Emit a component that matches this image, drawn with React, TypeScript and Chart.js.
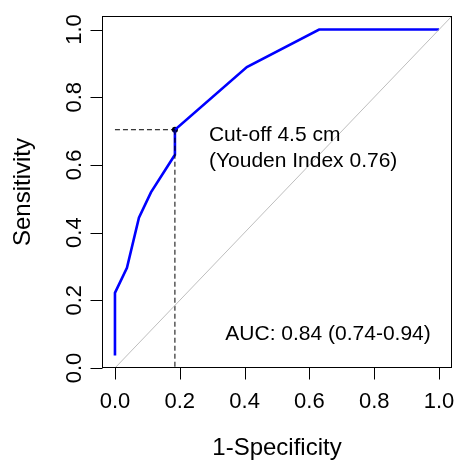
import React, { useEffect, useRef } from "react";
import { Chart, registerables } from "chart.js";

Chart.register(...registerables);

// ROC curve values
const fpr = [0, 0, 0.037, 0.074, 0.111, 0.185, 0.185, 0.407, 0.63, 1.0];
const tpr = [0.037, 0.222, 0.296, 0.444, 0.519, 0.63, 0.704, 0.889, 1.0, 1.0];

// optimal cut-off point
const cutoffX = [0.185];
const cutoffY = [0.704];

// reference diagonal
const diagX = [0, 1.04];
const diagY = [0, 1.04];

// ticks
const xTicks = [0, 0.2, 0.4, 0.6, 0.8, 1.0];
const xTickLabels = ["0.0", "0.2", "0.4", "0.6", "0.8", "1.0"];
const yTicks = [0, 0.2, 0.4, 0.6, 0.8, 1.0];
const yTickLabels = ["0.0", "0.2", "0.4", "0.6", "0.8", "1.0"];

const xTitle = "1-Specificity";
const yTitle = "Sensitivity";
const cutoffLines = ["Cut-off 4.5 cm", "(Youden Index 0.76)"];
const aucText = "AUC: 0.84 (0.74-0.94)";

const FONT = '"Liberation Sans", Arial, Helvetica, sans-serif';

const axesPlugin = {
  id: "rAxes",
  afterDraw(chart: any) {
    const { ctx, chartArea } = chart;
    const xs = chart.scales.x;
    const ys = chart.scales.y;
    const { left, right, top, bottom } = chartArea;
    ctx.save();
    ctx.strokeStyle = "#000";
    ctx.fillStyle = "#000";
    ctx.lineWidth = 1;
    ctx.setLineDash([]);
    // box
    ctx.strokeRect(Math.round(left) + 0.5, Math.round(top) + 0.5, Math.round(right - left) - 1, Math.round(bottom - top) - 1);
    const by = Math.round(bottom) - 0.5;
    const lx = Math.round(left) + 0.5;
    // x ticks
    ctx.font = `22px ${FONT}`;
    ctx.textAlign = "center";
    ctx.textBaseline = "alphabetic";
    xTicks.forEach((v, i) => {
      const px = Math.round(xs.getPixelForValue(v)) + 0.5;
      ctx.beginPath();
      ctx.moveTo(px, by);
      ctx.lineTo(px, by + 12);
      ctx.stroke();
      ctx.fillText(xTickLabels[i], xs.getPixelForValue(v), bottom + 39.5);
    });
    // y ticks
    yTicks.forEach((v, i) => {
      const py = Math.round(ys.getPixelForValue(v)) + 0.5;
      ctx.beginPath();
      ctx.moveTo(lx - 12, py);
      ctx.lineTo(lx, py);
      ctx.stroke();
      ctx.save();
      ctx.translate(left - 21, ys.getPixelForValue(v));
      ctx.rotate(-Math.PI / 2);
      ctx.fillText(yTickLabels[i], 0, 0);
      ctx.restore();
    });
    // titles
    ctx.font = `24px ${FONT}`;
    ctx.fillText(xTitle, (left + right) / 2, bottom + 87);
    ctx.save();
    ctx.translate(left - 72.5, (top + bottom) / 2);
    ctx.rotate(-Math.PI / 2);
    ctx.fillText(yTitle, 0, 0);
    ctx.restore();
    // annotations
    ctx.font = `21px ${FONT}`;
    ctx.textAlign = "left";
    ctx.fillText(cutoffLines[0], xs.getPixelForValue(0.29), ys.getPixelForValue(0.6707));
    ctx.fillText(cutoffLines[1], xs.getPixelForValue(0.29), ys.getPixelForValue(0.5939));
    ctx.textAlign = "center";
    ctx.fillText(aucText, xs.getPixelForValue(0.6575), ys.getPixelForValue(0.0827));
    ctx.restore();
  },
};

export default function App() {
  const ref = useRef<HTMLCanvasElement | null>(null);
  useEffect(() => {
    if (!ref.current) return;
    const roc = fpr.map((x, i) => ({ x, y: tpr[i] }));
    const diag = diagX.map((x, i) => ({ x, y: diagY[i] }));
    const hLine = [
      { x: 0, y: cutoffY[0] },
      { x: cutoffX[0], y: cutoffY[0] },
    ];
    const vLine = [
      { x: cutoffX[0], y: cutoffY[0] },
      { x: cutoffX[0], y: 0 },
    ];
    const chart = new Chart(ref.current, {
      type: "scatter",
      data: {
        datasets: [
          {
            data: diag,
            showLine: true,
            borderColor: "#bebebe",
            borderWidth: 1,
            pointRadius: 0,
          },
          {
            data: hLine,
            showLine: true,
            borderColor: "#000",
            borderWidth: 1,
            borderDash: [5, 3],
            pointRadius: 0,
          },
          {
            data: vLine,
            showLine: true,
            borderColor: "#000",
            borderWidth: 1,
            borderDash: [5, 3],
            pointRadius: 0,
          },
          {
            data: roc,
            showLine: true,
            borderColor: "#0000ff",
            borderWidth: 2.6,
            pointRadius: 0,
            tension: 0,
          },
          {
            data: cutoffX.map((x, i) => ({ x, y: cutoffY[i] })),
            showLine: false,
            pointRadius: 3,
            pointBackgroundColor: "#000",
            pointBorderColor: "#000",
            pointBorderWidth: 0,
          },
        ],
      },
      options: {
        responsive: false,
        animation: false,
        events: [],
        layout: { padding: { left: 102, right: 3, top: 16, bottom: 92 } },
        plugins: {
          legend: { display: false },
          tooltip: { enabled: false },
        },
        scales: {
          x: { type: "linear", min: -0.04, max: 1.04, display: false },
          y: { type: "linear", min: 0, max: 1.04, display: false },
        },
      },
      plugins: [axesPlugin],
    });
    return () => chart.destroy();
  }, []);
  return (
    <canvas
      ref={ref}
      width={456}
      height={460}
      style={{ position: "fixed", left: 0, top: 0, width: 456, height: 460, background: "#fff" }}
    />
  );
}
